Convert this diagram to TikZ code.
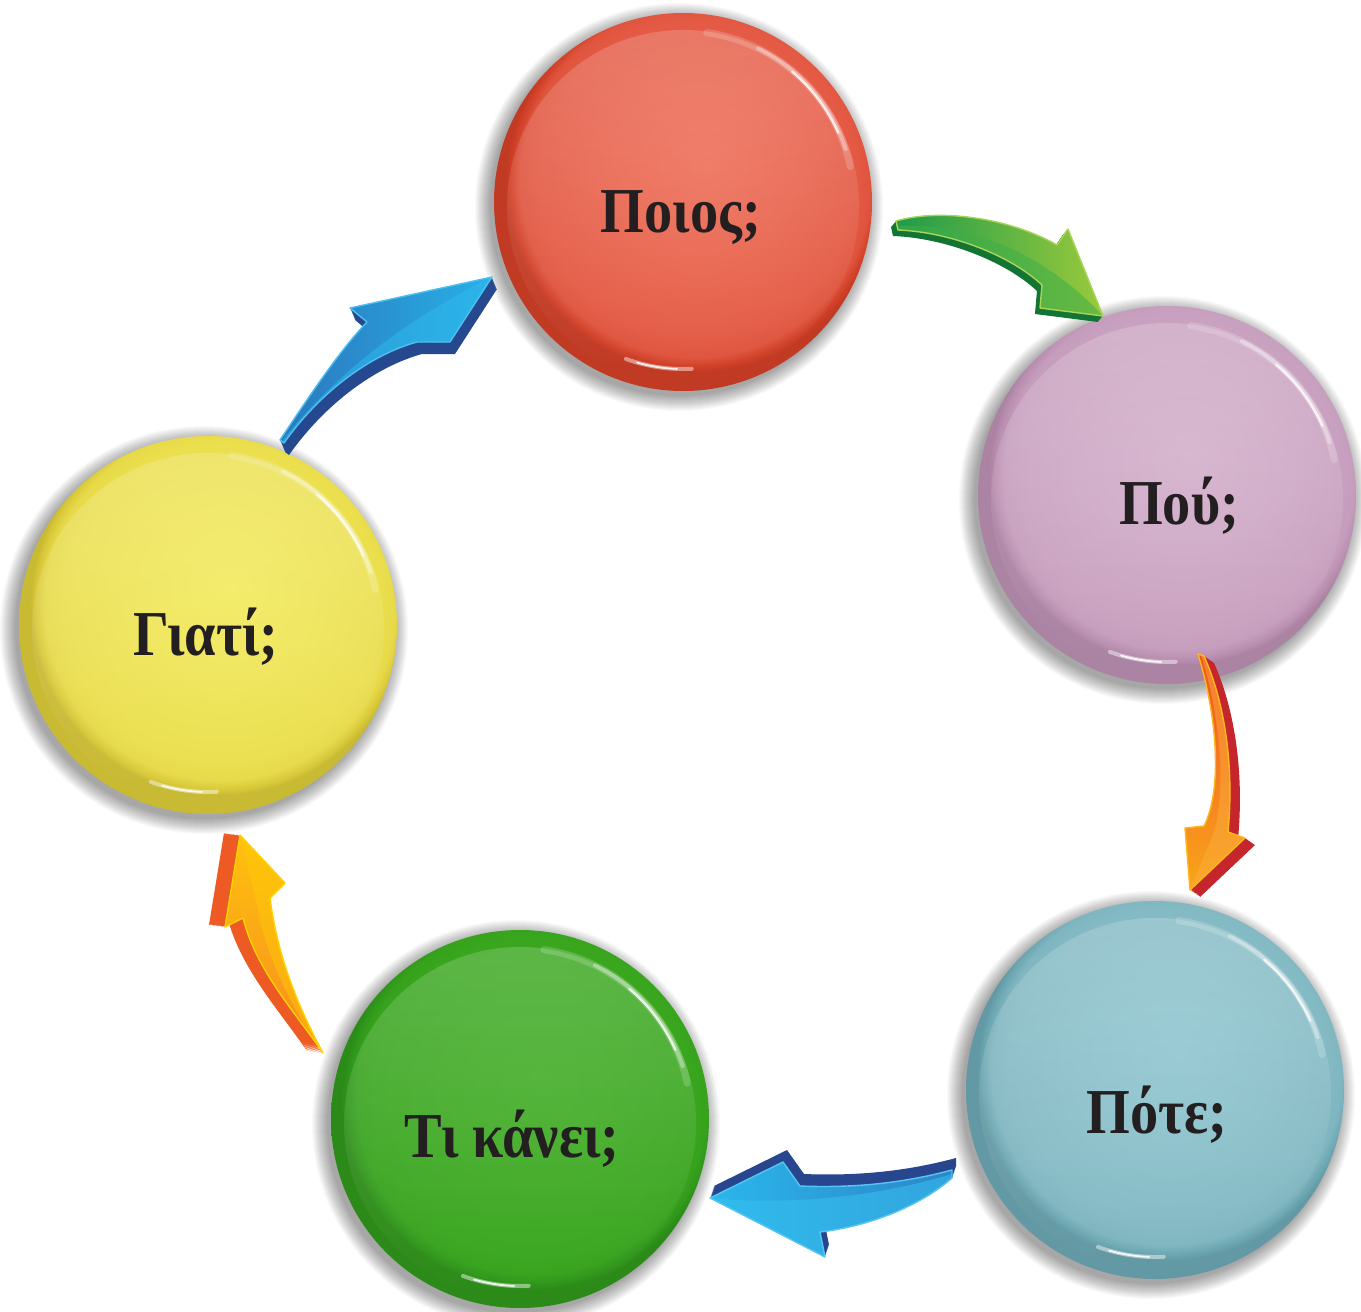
\documentclass[tikz,border=0pt]{standalone}
\usepackage{fontspec}
\setmainfont{Liberation Serif}
\newfontfamily\lblfont{Liberation Serif}[FakeStretch=0.88]
\usetikzlibrary{fadings}

\tikzfading[name=glossfade, top color=transparent!82, middle color=transparent!100, bottom color=transparent!100]

\colorlet{btnA}{red}\colorlet{btnB}{red}\colorlet{btnC}{red}
\pgfdeclareradialshading[btnA,btnB,btnC]{btn}{\pgfpoint{3bp}{5bp}}{%
  color(0bp)=(btnA); color(12bp)=(btnA!50!btnB); color(21bp)=(btnB);
  color(23.2bp)=(btnB!78!btnC); color(24.4bp)=(btnC); color(25bp)=(btnC!93!black); color(50bp)=(btnC!93!black)}

\newcommand{\glossbtn}[5]{%
  \foreach \k in {0,...,15} {\fill[black, opacity=0.022] (#1-4,#2+5) circle ({189+\k});}
  \definecolor{btnA}{HTML}{#3}\definecolor{btnB}{HTML}{#4}\definecolor{btnC}{HTML}{#5}
  \shade[shading=btn] (#1,#2) circle (189);
  \fill[white, path fading=glossfade] (#1,#2+4) circle (176);
  \draw[white, opacity=.18, line width=7, line cap=round] (#1,#2) ++(-12:171) arc(-12:-82:171);
  \draw[white, opacity=.35, line width=4, line cap=round] (#1,#2) ++(-18:171) arc(-18:-64:171);
  \draw[white, opacity=.75, line width=2.4, line cap=round] (#1,#2) ++(-24:170) arc(-24:-50:170);
  \draw[white, opacity=.45, line width=4, line cap=round] (#1,#2) ++(-250:167) arc(-250:-273:167);
  \draw[white, opacity=.85, line width=1.8, line cap=round] (#1,#2) ++(-254:167) arc(-254:-268:167);
}

% arrow colours
\definecolor{gExt}{HTML}{137533}\definecolor{gL}{HTML}{1E9B4A}\definecolor{gR}{HTML}{9ACA3C}\definecolor{gH}{HTML}{3FAE49}\definecolor{gE}{HTML}{A8D45A}
\definecolor{oExt}{HTML}{C4262B}\definecolor{oT}{HTML}{F05423}\definecolor{oB}{HTML}{F9A51A}\definecolor{oH}{HTML}{FBB040}\definecolor{oE}{HTML}{FFB81C}
\definecolor{bExt}{HTML}{27468E}\definecolor{bL}{HTML}{2AB7EC}\definecolor{bR}{HTML}{2C86C8}\definecolor{bH}{HTML}{36C0F0}\definecolor{bE}{HTML}{55C6F1}
\definecolor{pExt}{HTML}{EE5A24}\definecolor{pT}{HTML}{FFC20E}\definecolor{pB}{HTML}{F68B1F}\definecolor{pH}{HTML}{FFCB05}\definecolor{pE}{HTML}{FFD200}
\definecolor{cExt}{HTML}{25488E}\definecolor{cL}{HTML}{2A78BE}\definecolor{cR}{HTML}{29B0E6}\definecolor{cH}{HTML}{2DBBEE}\definecolor{cE}{HTML}{4CC0EE}
\definecolor{lbltext}{HTML}{231F20}

% arrow outlines (pixel coordinates, y downwards)
\def\arrG{(896,221) .. controls (940,208) and (1010,218) .. (1057,245) -- (1068,229) -- (1103,316) -- (1040,308) -- (1042,285) .. controls (1010,255) and (950,232) .. (898,230) -- cycle}
\def\arrGh{(897,226) .. controls (960,222) and (1040,248) .. (1103,316) -- (1040,308) -- (1042,285) .. controls (1010,255) and (950,232) .. (898,230) -- cycle}

\def\arrOa{(1198,654) .. controls (1218,720) and (1222,790) .. (1204,826) -- (1185,828) -- (1190,890) -- (1245,838) -- (1228,832) .. controls (1234,770) and (1226,705) .. (1204,656) -- cycle}
\def\arrOah{(1201,655) .. controls (1221,718) and (1226,790) .. (1214,832) -- (1190,890) -- (1245,838) -- (1228,832) .. controls (1234,770) and (1226,705) .. (1204,656) -- cycle}

\def\arrBa{(952,1170) .. controls (900,1184) and (850,1188) .. (800,1186) -- (783,1162) -- (710,1198) -- (825,1257) -- (820,1232) .. controls (870,1226) and (920,1206) .. (952,1178) -- cycle}
\def\arrBah{(952,1174) .. controls (880,1196) and (790,1206) .. (710,1198) -- (825,1257) -- (820,1232) .. controls (870,1226) and (920,1206) .. (952,1178) -- cycle}

\def\arrOb{(240,835) -- (285,883) -- (270,898) .. controls (278,960) and (300,1010) .. (323,1053) .. controls (295,1012) and (256,970) .. (243,918) -- (225,927) -- cycle}
\def\arrObh{(240,835) -- (285,883) -- (270,898) .. controls (278,960) and (300,1010) .. (323,1053) .. controls (296,1015) and (266,960) .. (257,905) -- cycle}

\def\arrBb{(280,440) .. controls (310,395) and (340,350) .. (367,322) -- (350,308) -- (492,277) -- (450,342) -- (417,342) .. controls (370,355) and (320,392) .. (284,443) -- cycle}
\def\arrBbh{(282,441) .. controls (330,380) and (400,322) .. (492,277) -- (450,342) -- (417,342) .. controls (370,355) and (320,392) .. (284,443) -- cycle}

\newcommand{\fancyarrow}[8]{%
  \foreach \t in {0,...,12} {\fill[#4, shift={({#2*\t/12},{#3*\t/12})}] #1;}
  \shade[#5] #1;
  \fill[#7] #6;
  \draw[#8, line width=1.4, line join=round] #1;
}

\tikzset{lbl/.style={font=\lblfont\bfseries\fontsize{64}{70}\selectfont, text=lbltext, inner sep=0pt, anchor=base}}

\begin{document}
\begin{tikzpicture}[x=1pt, y=-1pt]
\useasboundingbox (0,0) rectangle (1361,1312);
\fill[white] (0,0) rectangle (1361,1312);

% buttons
\glossbtn{683}{202}{EE6D56}{E45A44}{D03E26}
\glossbtn{1167}{495}{D3AECB}{C9A1C0}{B88DAF}
\glossbtn{1155}{1090}{8EC5CF}{84BAC4}{6AA5B0}
\glossbtn{520}{1119}{40AC24}{39A61E}{2F961A}
\glossbtn{208}{625}{F2EA5A}{EBDF4E}{D8C838}

% labels
\node[lbl] (who) at (681,232) {Ποιος;};
\node[lbl] (where) at (1179,524) {Πού;};
\node[lbl] (when) at (1157,1133) {Πότε;};
\node[lbl] (what) at (512,1157) {Τι κάνει;};
\node[lbl] (why) at (206,655) {Γιατί;};

% arrows
\fancyarrow{\arrG}{-5}{6}{gExt}{left color=gL, right color=gR}{\arrGh}{gH, opacity=.55}{gE}
\fancyarrow{\arrOa}{10}{7}{oExt}{top color=oT, bottom color=oB}{\arrOah}{oH, opacity=.45}{oE}
\fancyarrow{\arrBa}{4}{-12}{bExt}{left color=bL, right color=bR}{\arrBah}{bH, opacity=.55}{bE}
\fancyarrow{\arrOb}{-16}{-2}{pExt}{top color=pT, bottom color=pB}{\arrObh}{pH, opacity=.45}{pE}
\fancyarrow{\arrBb}{5}{12}{cExt}{left color=cL, right color=cR}{\arrBbh}{cH, opacity=.5}{cE}
\end{tikzpicture}
\end{document}
